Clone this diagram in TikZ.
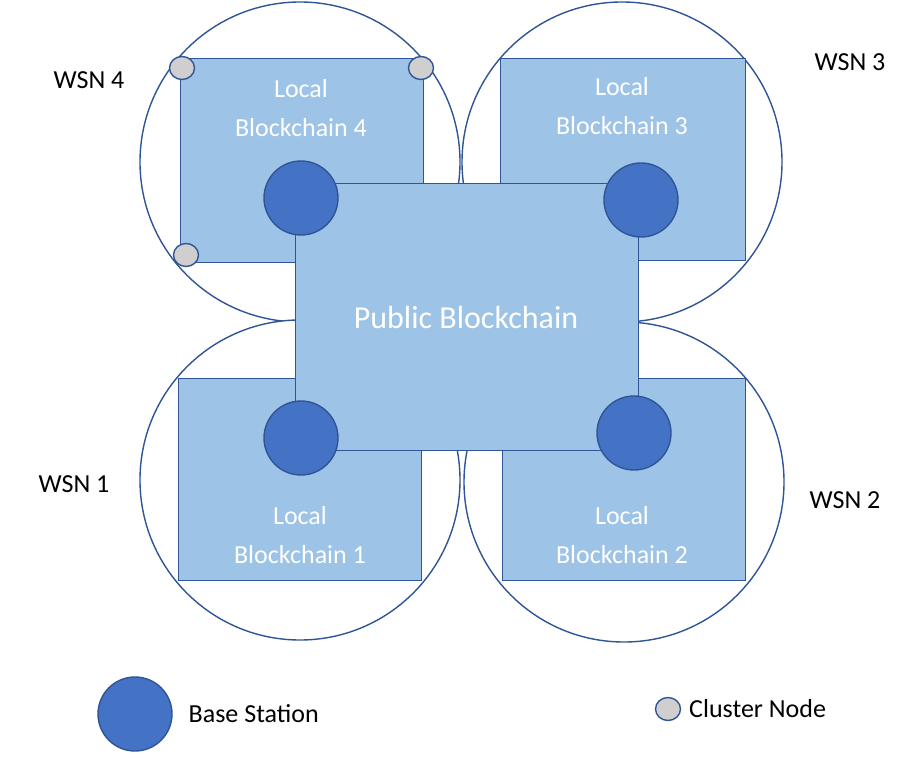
\documentclass[tikz,border=0pt]{standalone}
\usepackage{fontspec}
\setmainfont{Carlito}
\usetikzlibrary{positioning,shapes.geometric}
\definecolor{chainfill}{HTML}{9DC3E6}
\definecolor{chainline}{HTML}{2F5597}
\definecolor{basefill}{HTML}{4472C4}
\definecolor{clusterfill}{HTML}{D0CECE}
\begin{document}
\begin{tikzpicture}[x=1pt,y=-1pt,line width=1.4pt,
	wsn/.style={draw=chainline,fill=white,circle,minimum size=320pt,inner sep=0pt},
	chain/.style={draw=chainline,fill=chainfill,inner sep=0pt},
	chaintext/.style={text=white,align=center,font=\fontsize{26}{39}\selectfont},
	base/.style={draw=chainline,fill=basefill,circle,minimum size=74pt,inner sep=0pt},
	cluster/.style={draw=chainline,fill=clusterfill,ellipse,minimum width=25pt,minimum height=23pt,inner sep=0pt},
	lbl/.style={font=\fontsize{26}{30}\selectfont}]
	\useasboundingbox (0,0) rectangle (923,759);
	% wireless sensor networks
	\node[wsn] (w4) at (300,162) {};
	\node[wsn] (w3) at (622,162) {};
	\node[wsn] (w1) at (300,480) {};
	\node[wsn] (w2) at (624,482) {};
	\node[lbl] (t4) at (89,80) {WSN 4};
	\node[lbl] (t3) at (850,62) {WSN 3};
	\node[lbl] (t1) at (74,484) {WSN 1};
	\node[lbl] (t2) at (845,500) {WSN 2};
	% local blockchains
	\node[chain,minimum width=243pt,minimum height=204pt,anchor=north west] (l4) at (180,58) {};
	\node[chain,minimum width=245pt,minimum height=202pt,anchor=north west] (l3) at (500,58) {};
	\node[chain,minimum width=243pt,minimum height=202pt,anchor=north west] (l1) at (178,378) {};
	\node[chain,minimum width=243pt,minimum height=202pt,anchor=north west] (l2) at (502,378) {};
	\node[chaintext] (n4) at (301,108) {Local\\Blockchain 4};
	\node[chaintext] (n3) at (622,106) {Local\\Blockchain 3};
	\node[chaintext] (n1) at (300,535) {Local\\Blockchain 1};
	\node[chaintext] (n2) at (622,535) {Local\\Blockchain 2};
	% public blockchain
	\node[chain,minimum width=343pt,minimum height=267pt,anchor=north west] (pub) at (295,183) {};
	\node[chaintext,font=\fontsize{32}{38}\selectfont] (np) at (466,318) {Public Blockchain};
	% base stations
	\node[base] (b4) at (301,198) {};
	\node[base] (b3) at (641,200) {};
	\node[base] (b1) at (301,438) {};
	\node[base] (b2) at (634,433) {};
	% cluster nodes
	\node[cluster] (c1) at (182,68) {};
	\node[cluster] (c2) at (421,68) {};
	\node[cluster] (c3) at (186,255) {};
	% legend
	\node[base] (lb) at (135,714) {};
	\node[lbl,right=12pt of lb] (lbt) {Base Station};
	\node[cluster] (lc) at (668,709) {};
	\node[lbl,right=4pt of lc] (lct) {Cluster Node};
\end{tikzpicture}
\end{document}
